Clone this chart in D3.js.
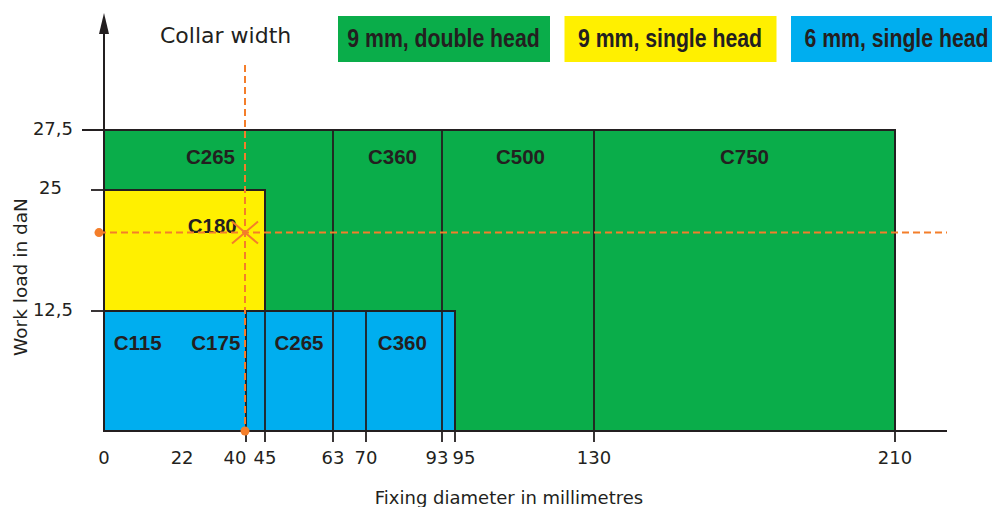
<!DOCTYPE html>
<html>
<head>
<meta charset="utf-8">
<script src="https://cdn.jsdelivr.net/npm/d3@7"></script>
<style>
  body { margin: 0; background: #fff; }
  svg { display: block; }
</style>
</head>
<body>
<svg width="992" height="507"></svg>
<script>
// breakpoints of the (non-uniform) diameter axis, in mm
var xBreaks = [0, 40, 45, 63, 70, 93, 95, 130, 210];
var xTickValues = [40, 45, 63, 70, 93, 95, 130, 210];
var xTickLabels = [0, 22, 40, 45, 63, 70, 93, 95, 130, 210];

// work load axis, in daN
var yBreaks = [0, 12.5, 25, 27.5];
var yTickLabels = ["12,5", "25", "27,5"];

// families of collars
var families = ["9 mm, double head", "9 mm, single head", "6 mm, single head"];
var familyColors = ["#0aad4a", "#fff000", "#00aeef"];
var familyX = [[0, 210], [0, 45], [0, 95]];
var familyY = [[0, 27.5], [12.5, 25], [0, 12.5]];

// separations between collar models
var doubleDividers = [63, 93, 130];
var singleDividers = [40, 45, 70];

// model names: name, diameter where the label sits, load where the label sits
var modelNames = ["C265", "C360", "C500", "C750", "C180", "C115", "C175", "C265", "C360"];
var modelAtX = [30, 78, 111.5, 170, 30.5, 9.5, 31.5, 54, 81];
var modelAtY = [26.4, 26.4, 26.4, 26.4, 21.3, 9.2, 9.2, 9.2, 9.2];

// worked example: collar width 40 mm, work load
var exampleX = 40;
var exampleY = 20.6;

var ink = "#231f20";
var orange = "#f47e2a";

var svg = d3.select("svg");

var x = d3.scaleLinear()
  .domain(xBreaks)
  .range([104, 246, 265, 333, 366, 442, 455, 594, 895]);
var y = d3.scaleLinear()
  .domain(yBreaks)
  .range([431, 311, 190, 130]);

// coloured areas
svg.selectAll("rect.family")
  .data(families)
  .enter()
  .append("rect")
  .attr("class", "family")
  .attr("x", (d, i) => x(familyX[i][0]))
  .attr("width", (d, i) => x(familyX[i][1]) - x(familyX[i][0]))
  .attr("y", (d, i) => y(familyY[i][1]))
  .attr("height", (d, i) => y(familyY[i][0]) - y(familyY[i][1]))
  .style("fill", (d, i) => familyColors[i])
  .style("stroke", ink)
  .style("stroke-width", 2);

// model dividers
svg.selectAll("line.ddiv")
  .data(doubleDividers)
  .enter()
  .append("line")
  .attr("class", "ddiv")
  .attr("x1", d => x(d)).attr("x2", d => x(d))
  .attr("y1", y(27.5)).attr("y2", y(0))
  .style("stroke", ink).style("stroke-width", 1.8);

svg.selectAll("line.sdiv")
  .data(singleDividers)
  .enter()
  .append("line")
  .attr("class", "sdiv")
  .attr("x1", d => x(d)).attr("x2", d => x(d))
  .attr("y1", y(12.5)).attr("y2", y(0))
  .style("stroke", ink).style("stroke-width", 1.8);

// x axis
svg.append("line")
  .attr("x1", x(0)).attr("x2", 947)
  .attr("y1", y(0)).attr("y2", y(0))
  .style("stroke", ink).style("stroke-width", 2.2);

svg.selectAll("line.xtick")
  .data(xTickValues)
  .enter()
  .append("line")
  .attr("class", "xtick")
  .attr("x1", d => x(d)).attr("x2", d => x(d))
  .attr("y1", y(0)).attr("y2", y(0) + 11)
  .style("stroke", ink).style("stroke-width", 1.8);

var xNudge = { 40: -11, 93: -5, 95: 9 };
svg.selectAll("text.xlab")
  .data(xTickLabels)
  .enter()
  .append("text")
  .attr("class", "xlab")
  .attr("x", d => x(d) + (xNudge[d] || 0))
  .attr("y", 464)
  .attr("text-anchor", "middle")
  .style("font-family", "DejaVu Sans")
  .style("font-size", "18px")
  .style("fill", ink)
  .text(d => d);

// y axis with arrow
svg.append("line")
  .attr("x1", x(0)).attr("x2", x(0))
  .attr("y1", y(0)).attr("y2", 28)
  .style("stroke", ink).style("stroke-width", 2);
svg.append("path")
  .attr("d", "M" + x(0) + ",13 L" + (x(0) - 5) + ",34 L" + (x(0) + 5) + ",34 Z")
  .style("fill", ink);

var yVals = [12.5, 25, 27.5];
svg.selectAll("line.ytick")
  .data(yVals)
  .enter()
  .append("line")
  .attr("class", "ytick")
  .attr("x1", d => (d == 27.5 ? 82 : 91))
  .attr("x2", d => (d == 25 ? x(0) : 123))
  .attr("y1", d => y(d)).attr("y2", d => y(d))
  .style("stroke", ink).style("stroke-width", 1.8);

svg.selectAll("text.ylab")
  .data(yTickLabels)
  .enter()
  .append("text")
  .attr("class", "ylab")
  .attr("x", (d, i) => (yVals[i] == 25 ? 62 : 73))
  .attr("y", (d, i) => y(yVals[i]) + (yVals[i] == 25 ? 4 : 5))
  .attr("text-anchor", "end")
  .style("font-family", "DejaVu Sans")
  .style("font-size", "18px")
  .style("fill", ink)
  .text(d => d);

// axis titles
svg.append("text")
  .attr("transform", "translate(27,277) rotate(-90)")
  .attr("text-anchor", "middle")
  .style("font-family", "DejaVu Sans")
  .style("font-size", "18.5px")
  .style("fill", ink)
  .text("Work load in daN");

svg.append("text")
  .attr("x", 509).attr("y", 504)
  .attr("text-anchor", "middle")
  .style("font-family", "DejaVu Sans")
  .style("font-size", "18px")
  .style("fill", ink)
  .text("Fixing diameter in millimetres");

svg.append("text")
  .attr("x", 160).attr("y", 43)
  .style("font-family", "DejaVu Sans")
  .style("font-size", "22px")
  .style("fill", ink)
  .text("Collar width");

// model labels
svg.selectAll("text.model")
  .data(modelNames)
  .enter()
  .append("text")
  .attr("class", "model")
  .attr("x", (d, i) => x(modelAtX[i]))
  .attr("y", (d, i) => y(modelAtY[i]) + 7.5)
  .attr("text-anchor", "middle")
  .style("font-family", "Liberation Sans, Arial, sans-serif")
  .style("font-weight", "bold")
  .style("font-size", "20.5px")
  .style("fill", ink)
  .text(d => d);

// legend boxes
var legend = svg.selectAll("g.legend")
  .data(families)
  .enter()
  .append("g")
  .attr("class", "legend")
  .attr("transform", (d, i) => "translate(" + (338 + i * 226.5) + ",16)");

legend.append("rect")
  .attr("width", 212)
  .attr("height", 46)
  .style("fill", (d, i) => familyColors[i]);

// condensed bold: regular bold squeezed horizontally
var squeeze = 0.85;
legend.append("text")
  .attr("transform", "scale(" + squeeze + ",1)")
  .attr("x", 105.5 / squeeze)
  .attr("y", 31)
  .attr("text-anchor", "middle")
  .style("font-family", "Liberation Sans, Arial, sans-serif")
  .style("font-weight", "bold")
  .style("font-size", "25px")
  .style("fill", ink)
  .text(d => d);

// worked example, orange guides
svg.append("line")
  .attr("x1", x(0) - 5).attr("x2", 947)
  .attr("y1", y(exampleY)).attr("y2", y(exampleY))
  .style("stroke", orange).style("stroke-width", 2)
  .style("stroke-dasharray", "7,4");
svg.append("line")
  .attr("x1", x(exampleX) - 1).attr("x2", x(exampleX) - 1)
  .attr("y1", 65).attr("y2", y(0))
  .style("stroke", orange).style("stroke-width", 2)
  .style("stroke-dasharray", "7,4");

svg.append("circle")
  .attr("cx", x(0) - 5).attr("cy", y(exampleY)).attr("r", 4.5)
  .style("fill", orange);
svg.append("circle")
  .attr("cx", x(exampleX) - 1).attr("cy", y(0)).attr("r", 4.5)
  .style("fill", orange);

var cx = x(exampleX) - 1, cy = y(exampleY);
svg.append("path")
  .attr("d", "M" + (cx - 13) + "," + (cy - 11) + "L" + (cx + 13) + "," + (cy + 11) +
    "M" + (cx - 13) + "," + (cy + 11) + "L" + (cx + 13) + "," + (cy - 11))
  .style("stroke", orange).style("stroke-width", 2);
</script>
</body>
</html>
